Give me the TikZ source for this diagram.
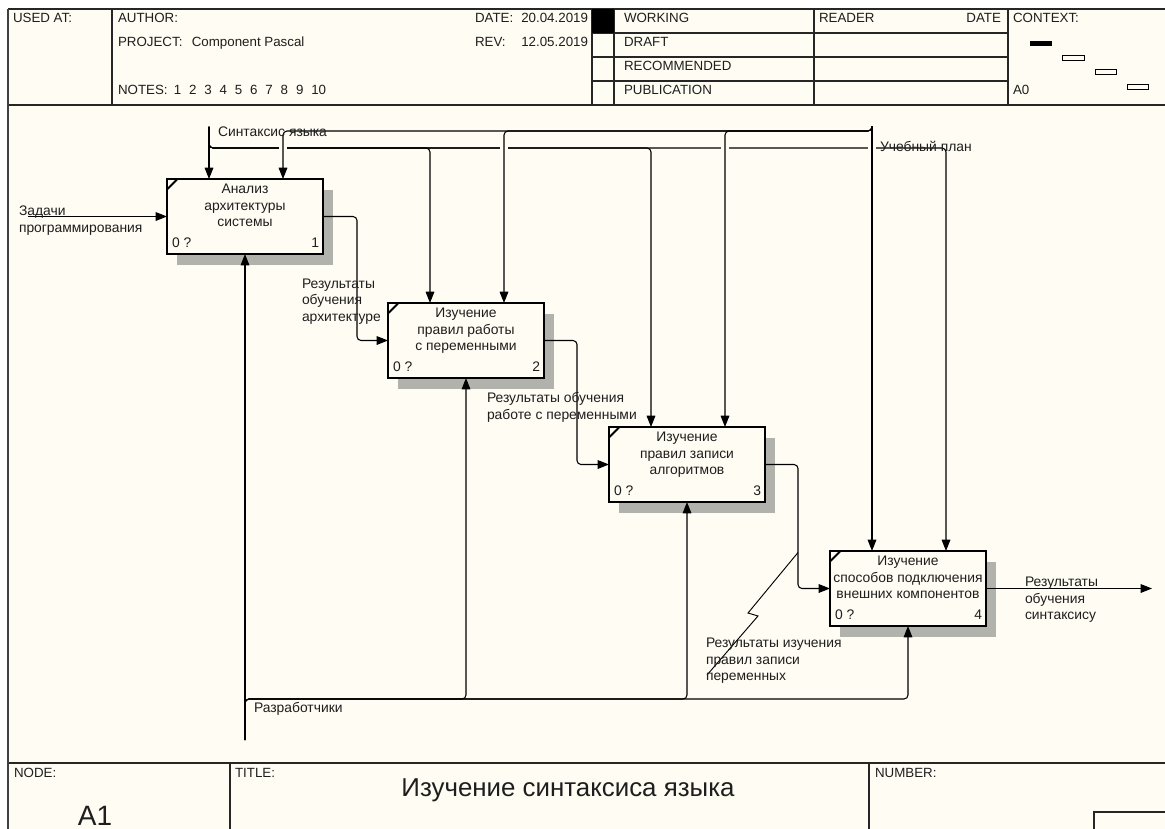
\documentclass[tikz,border=0pt]{standalone}
\usepackage{fontspec}
\setmainfont{Liberation Sans}
\usetikzlibrary{arrows.meta,calc,shadows}
\definecolor{paper}{RGB}{255,252,243}
\definecolor{shade}{RGB}{178,178,172}
\definecolor{ink}{RGB}{30,30,30}

% one IDEF0 activity: name, centre, title, number
\newcommand{\actbox}[4]{%
  \node[act] (#1) at (#2) {};
  \draw[tick] ($(#1.north west)+(0.5,10)$) -- ($(#1.north west)+(10,0.5)$);
  \node[dg, anchor=north, align=center] (#1t) at ($(#1.north)+(0,5)$) {#3};
  \node[dg, anchor=base west] (#1q) at ($(#1.south west)+(5,-7)$) {0 ?};
  \node[dg, anchor=base east] (#1n) at ($(#1.south east)+(-4,-7)$) {#4};
  \coordinate (#1k1) at ($(#1.north west)+(42,0)$);
  \coordinate (#1k2) at ($(#1.north west)+(116,0)$);
}

\begin{document}
\begin{tikzpicture}[x=0.75pt, y=-0.75pt,
  every node/.style={inner sep=0pt, outer sep=0pt, text=ink,
    font=\fontsize{10pt}{12.4pt}\selectfont},
  dg/.style={font=\fontsize{10.4pt}{12.5pt}\selectfont},
  act/.style={draw=black, line width=1.7pt, fill=paper,
    minimum width=117pt, minimum height=56.25pt,
    general shadow={fill=shade, shadow xshift=7.5pt, shadow yshift=-8.25pt}},
  tick/.style={line width=1.5pt, line cap=butt},
  flow/.style={draw=black, line width=0.8pt, rounded corners=3pt,
    -{Triangle[length=8.5pt,width=6.5pt]}},
  pipe/.style={draw=black, line width=0.7pt},
  rule/.style={draw=black!85, line width=0.8pt},
  lbl/.style={dg, anchor=north west, align=left},
]
% sheet
\fill[white] (0,0) rectangle (1165,829);
\fill[paper] (8,9) rectangle (1165,829);
\useasboundingbox (0,0) rectangle (1165,829);

% header grid
\draw[rule] (8,9) -- (1165,9);
\draw[rule] (8,105) -- (1165,105);
\foreach \x in {112,592,614,814,1008} \draw[rule] (\x,9) -- (\x,105);
\foreach \y in {33,57,81} \draw[rule] (592,\y) -- (1008,\y);
\fill[black] (592,9) rectangle (614,33);

% footer grid
\draw[rule] (8,763) -- (1165,763);
\draw[rule] (230,763) -- (230,829);
\draw[rule] (869,763) -- (869,829);
\draw[rule] (1166,812) -- (1094,812) -- (1094,830);
\draw[line width=1.6pt, black!75] (8,9) -- (8,829);

% header texts
\node[anchor=base west] (usedat) at (13,22.5) {USED AT:};
\node[anchor=base west] (author) at (118,22.5) {AUTHOR:};
\node[anchor=base west] (project) at (118,46.5) {PROJECT:\hspace{7pt}Component Pascal};
\node[anchor=base west] (notes) at (118,94.5) {NOTES:\hspace{4.6pt}1\hspace{5.9pt}2\hspace{5.9pt}3\hspace{5.9pt}4\hspace{5.9pt}5\hspace{5.9pt}6\hspace{5.9pt}7\hspace{5.9pt}8\hspace{5.9pt}9\hspace{5.9pt}10};
\node[anchor=base west] (datek) at (475,22.5) {DATE:};
\node[anchor=base east] (datev) at (588,22.5) {20.04.2019};
\node[anchor=base west] (revk) at (475,46.5) {REV:};
\node[anchor=base east] (revv) at (588,46.5) {12.05.2019};
\node[anchor=base west] (working) at (624,22.5) {WORKING};
\node[anchor=base west] (draft) at (624,46.5) {DRAFT};
\node[anchor=base west] (recommended) at (624,70.5) {RECOMMENDED};
\node[anchor=base west] (publication) at (624,94.5) {PUBLICATION};
\node[anchor=base west] (reader) at (819,22.5) {READER};
\node[anchor=base east] (rdate) at (1001,22.5) {DATE};
\node[anchor=base west] (context) at (1013,22.5) {CONTEXT:};
\node[anchor=base west] (ctxnode) at (1013,94.5) {A0};
% context map
\fill[black] (1030,41) rectangle (1052,46);
\draw[line width=0.6pt] (1062,55) rectangle (1084,60);
\draw[line width=0.6pt] (1095,69) rectangle (1116,74);
\draw[line width=0.6pt] (1127,84) rectangle (1148,89);

% footer texts
\node[anchor=base west] (nodek) at (14,777) {NODE:};
\node[anchor=base west] (titlek) at (235,777) {TITLE:};
\node[anchor=base west] (numberk) at (875,777) {NUMBER:};
\node[anchor=base] (nodev) at (95,825) {\fontsize{21pt}{24pt}\selectfont A1};
\node[anchor=base] (titlev) at (568,796) {\fontsize{19.4pt}{22pt}\selectfont Изучение синтаксиса языка};

% activities
\actbox{b1}{245,216.5}{Анализ\\архитектуры\\системы}{1}
\actbox{b2}{466,340.5}{Изучение\\правил работы\\с переменными}{2}
\actbox{b3}{687,464.5}{Изучение\\правил записи\\алгоритмов}{3}
\actbox{b4}{908,588.5}{Изучение\\способов подключения\\внешних компонентов}{4}

% buses and free ends
\coordinate (busA) at (0,131);
\coordinate (busB) at (0,148);
\coordinate (busM) at (0,699);
\coordinate (srcS) at (209,126.5);
\coordinate (srcP) at (872,126);
\coordinate (srcM) at (245,740);
\coordinate (inT) at (28,216.5);
\coordinate (outR) at (1152,588.5);

% control: syntax
\draw[flow] (srcS) -- (b1k1);
\draw[flow] (srcS) |- (b2k1 |- busB) -- (b2k1);
\draw[flow] (srcS) |- (b3k1 |- busB) -- (b3k1);
\draw[flow] (srcS) |- (b4k2 |- busB) -- (b4k2);
\foreach \k in {b1k2,b2k2,b3k2,b4k1}
  \fill[paper] ($(\k |- busB)+(-4,-2)$) rectangle ($(\k |- busB)+(4,2)$);
% control: curriculum
\draw[flow] (srcP) -- (b4k1);
\draw[flow] (srcP) |- (b3k2 |- busA) -- (b3k2);
\draw[flow] (srcP) |- (b2k2 |- busA) -- (b2k2);
\draw[flow] (srcP) |- (b1k2 |- busA) -- (b1k2);

% input and outputs
\draw[flow] (inT) -- (b1.west);
\draw[flow] (b1.east) -- ++(34,0) |- (b2.west);
\draw[flow] (b2.east) -- ++(33,0) |- (b3.west);
\draw[flow] (b3.east) -- ++(33,0) |- (b4.west);
\draw[flow] (b4.east) -- (outR);

% mechanism
\draw[flow] (srcM) -- (b1.south);
\draw[flow] (srcM) |- (b2.south |- busM) -- (b2.south);
\draw[flow] (srcM) |- (b3.south |- busM) -- (b3.south);
\draw[flow] (srcM) |- (b4.south |- busM) -- (b4.south);

% squiggle to the label of the third output
\coordinate (zz) at ($(b3.east)+(33,88)$);
\draw[pipe] (zz) -- ++(-50,60.5) -- ++(10,3) -- ++(-51,59);

% arrow labels
\node[dg, anchor=base west] (lsyn) at (218,136.5) {Синтаксис языка};
\node[dg, anchor=base west] (lplan) at (880,151) {Учебный план};
\node[lbl] (lin) at (19,206) {Задачи\\программирования};
\node[lbl] (lo1) at (302,278.5) {Результаты\\обучения\\архитектуре};
\node[lbl] (lo2) at (487,392.5) {Результаты обучения\\работе с переменными};
\node[lbl] (lo3) at (706,638) {Результаты изучения\\правил записи\\переменных};
\node[lbl] (lo4) at (1025,577) {Результаты\\обучения\\синтаксису};
\node[dg, anchor=base west] (lmech) at (254,712) {Разработчики};
\end{tikzpicture}
\end{document}
